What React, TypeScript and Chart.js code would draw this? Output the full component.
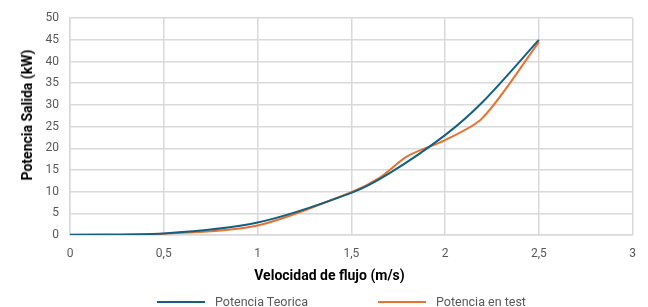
import React, { useEffect, useRef } from "react";
import { Chart, registerables } from "chart.js";

Chart.register(...registerables);

const velocidadTeorica = [0, 0.5, 1, 1.5, 1.7, 2, 2.2, 2.5];
const potenciaTeorica = [0, 0.36, 2.88, 9.72, 14.15, 23.04, 30.67, 45];
const velocidadTest = [0, 0.5, 1, 1.5, 1.65, 1.8, 2, 2.2, 2.5];
const potenciaTest = [0.1, 0.3, 2.2, 9.9, 13.2, 18.2, 21.9, 27, 44.5];
const seriesNames = ["Potencia Teorica", "Potencia en test"];
const seriesColors = ["#156082", "#E97132"];
const xTitle = "Velocidad de flujo (m/s)";
const yTitle = "Potencia Salida (kW)";

const FONT = "Roboto, 'Liberation Sans', sans-serif";

export default function App() {
  const ref = useRef<HTMLCanvasElement | null>(null);

  useEffect(() => {
    if (!ref.current) return;
    const toPts = (xs: number[], ys: number[]) => xs.map((x, i) => ({ x, y: ys[i] }));
    const chart = new Chart(ref.current, {
      type: "line",
      data: {
        datasets: [
          {
            label: seriesNames[0],
            data: toPts(velocidadTeorica, potenciaTeorica),
            borderColor: seriesColors[0],
            backgroundColor: seriesColors[0],
            borderWidth: 2,
            pointRadius: 0,
            tension: 0.3,
          },
          {
            label: seriesNames[1],
            data: toPts(velocidadTest, potenciaTest),
            borderColor: seriesColors[1],
            backgroundColor: seriesColors[1],
            borderWidth: 2,
            pointRadius: 0,
            tension: 0.3,
          },
        ],
      },
      options: {
        animation: false,
        responsive: false,
        maintainAspectRatio: false,
        layout: { padding: { left: 0, right: 12, top: 18, bottom: 0 } },
        plugins: { legend: { display: false }, tooltip: { enabled: false } },
        scales: {
          x: {
            type: "linear",
            min: 0,
            max: 3,
            ticks: {
              stepSize: 0.5,
              padding: 12,
              color: "#595959",
              font: { family: FONT, size: 12 },
              callback: (v: any) => String(v).replace(".", ","),
            },
            grid: { color: "#d9d9d9", lineWidth: 1.5, drawTicks: false },
            border: { color: "#d9d9d9", width: 1.5 },
            title: { display: false },
            afterFit: (s: any) => {
              s.height = 72;
            },
          },
          y: {
            min: 0,
            max: 50,
            ticks: {
              stepSize: 5,
              padding: 11,
              color: "#595959",
              font: { family: FONT, size: 12 },
            },
            grid: { color: "#d9d9d9", lineWidth: 1.5, drawTicks: false },
            border: { color: "#d9d9d9", width: 1.5 },
            title: { display: false },
            afterFit: (s: any) => {
              s.width = 70;
            },
          },
        },
      },
    });
    return () => chart.destroy();
  }, []);

  const legendItem = (i: number, left: number) => (
    <div
      key={i}
      style={{
        position: "absolute",
        left,
        top: 293,
        height: 17,
        display: "flex",
        alignItems: "center",
        fontFamily: FONT,
        fontSize: 12.5,
        color: "#595959",
        whiteSpace: "nowrap",
      }}
    >
      <span
        style={{
          display: "inline-block",
          width: 48,
          height: 2,
          background: seriesColors[i],
          marginRight: 10,
        }}
      />
      <span>{seriesNames[i]}</span>
    </div>
  );

  return (
    <div
      style={{
        position: "fixed",
        left: 0,
        top: 0,
        width: 648,
        height: 307,
        background: "#fff",
      }}
    >
      <canvas ref={ref} width={648} height={307} style={{ display: "block" }} />
      <div
        style={{
          position: "absolute",
          left: 329.5,
          top: 275,
          transform: "translate(-50%, -50%)",
          fontFamily: FONT,
          fontWeight: "bold",
          fontSize: 14,
          color: "#000",
          whiteSpace: "nowrap",
        }}
      >
        {xTitle}
      </div>
      <div
        style={{
          position: "absolute",
          left: 26.5,
          top: 115,
          transform: "translate(-50%, -50%) rotate(-90deg)",
          fontFamily: FONT,
          fontWeight: "bold",
          fontSize: 14,
          color: "#000",
          whiteSpace: "nowrap",
        }}
      >
        {yTitle}
      </div>
      {legendItem(0, 157)}
      {legendItem(1, 378)}
    </div>
  );
}
